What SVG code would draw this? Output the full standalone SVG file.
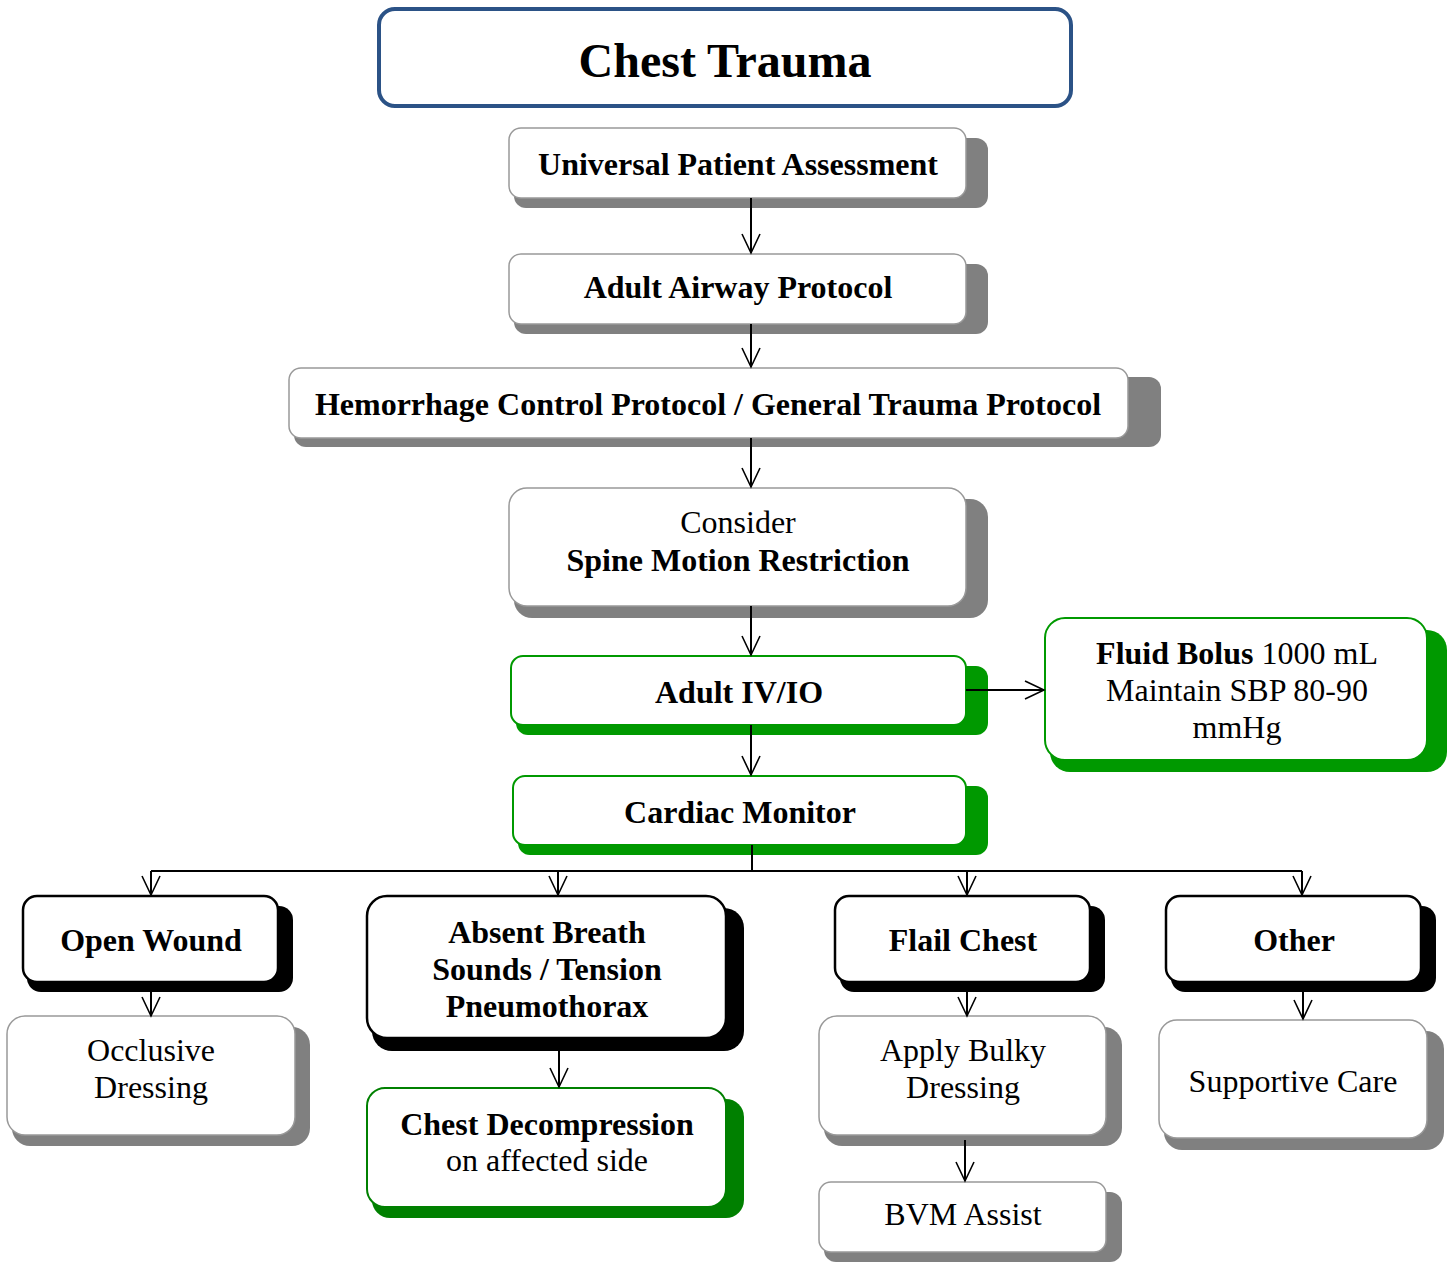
<svg xmlns="http://www.w3.org/2000/svg" width="1453" height="1264" viewBox="0 0 1453 1264">
<defs>
<style>
text{font-family:"Liberation Serif","Times New Roman",serif;font-size:32px;fill:#000;text-anchor:middle}
.b{font-weight:bold}
.box{fill:#fff}
.grey{stroke:#999;stroke-width:1.5}
.grn{stroke:#009900;stroke-width:2}
.dgrn{stroke:#008000;stroke-width:2}
.blk{stroke:#000;stroke-width:2.5}
.sh-grey{fill:#808080}
.sh-grn{fill:#009900}
.sh-dgrn{fill:#008000}
.sh-blk{fill:#000}
.con{stroke:#000;stroke-width:2;fill:none}
</style>
<marker id="arr" markerUnits="userSpaceOnUse" markerWidth="22" markerHeight="20" viewBox="0 0 22 20" refX="20" refY="10" orient="auto">
<path d="M1,1 L20,10 L1,19" fill="none" stroke="#000" stroke-width="1.6"/>
</marker>
</defs>
<rect width="1453" height="1264" fill="#fff"/>

<g id="title">
<rect x="379" y="9" width="692" height="97" rx="16" fill="#fff" stroke="#2b5286" stroke-width="4"/>
<text x="725" y="77" class="b" style="font-size:48px">Chest Trauma</text>
</g>

<g id="upa">
<rect x="514" y="138" width="474" height="70" rx="12" class="sh-grey"/>
<rect x="509" y="128" width="457" height="70" rx="12" class="box grey"/>
<text x="738" y="175" class="b">Universal Patient Assessment</text>
</g>

<g id="airway">
<rect x="514" y="264" width="474" height="70" rx="12" class="sh-grey"/>
<rect x="509" y="254" width="457" height="70" rx="12" class="box grey"/>
<text x="738" y="298" class="b">Adult Airway Protocol</text>
</g>

<g id="hemorrhage">
<rect x="294" y="377" width="867" height="70" rx="12" class="sh-grey"/>
<rect x="289" y="368" width="839" height="70" rx="12" class="box grey"/>
<text x="708" y="415" class="b">Hemorrhage Control Protocol / General Trauma Protocol</text>
</g>

<g id="spine">
<rect x="514" y="499" width="474" height="119" rx="18" class="sh-grey"/>
<rect x="509" y="488" width="457" height="118" rx="18" class="box grey"/>
<text x="738" y="533">Consider</text>
<text x="738" y="571" class="b">Spine Motion Restriction</text>
</g>

<g id="iv">
<rect x="516" y="666" width="472" height="69" rx="12" class="sh-grn"/>
<rect x="511" y="656" width="455" height="69" rx="12" class="box grn"/>
<text x="739" y="703" class="b">Adult IV/IO</text>
</g>

<g id="fluid">
<rect x="1050" y="630" width="397" height="142" rx="20" class="sh-grn"/>
<rect x="1045" y="618" width="382" height="142" rx="20" class="box grn"/>
<text x="1237" y="664"><tspan class="b">Fluid Bolus</tspan> 1000 mL</text>
<text x="1237" y="701">Maintain SBP 80-90</text>
<text x="1237" y="738">mmHg</text>
</g>

<g id="cardiac">
<rect x="518" y="786" width="470" height="69" rx="12" class="sh-grn"/>
<rect x="513" y="776" width="453" height="69" rx="12" class="box grn"/>
<text x="740" y="823" class="b">Cardiac Monitor</text>
</g>

<g id="openwound">
<rect x="27" y="906" width="266" height="86" rx="14" class="sh-blk"/>
<rect x="23" y="896" width="255" height="86" rx="14" class="box blk"/>
<text x="151" y="951" class="b">Open Wound</text>
</g>

<g id="absent">
<rect x="372" y="908" width="372" height="143" rx="20" class="sh-blk"/>
<rect x="367" y="896" width="359" height="142" rx="20" class="box blk"/>
<text x="547" y="943" class="b">Absent Breath</text>
<text x="547" y="980" class="b">Sounds / Tension</text>
<text x="547" y="1017" class="b">Pneumothorax</text>
</g>

<g id="flail">
<rect x="840" y="906" width="265" height="86" rx="14" class="sh-blk"/>
<rect x="835" y="896" width="255" height="86" rx="14" class="box blk"/>
<text x="963" y="951" class="b">Flail Chest</text>
</g>

<g id="other">
<rect x="1171" y="906" width="265" height="86" rx="14" class="sh-blk"/>
<rect x="1166" y="896" width="255" height="86" rx="14" class="box blk"/>
<text x="1294" y="951" class="b">Other</text>
</g>

<g id="occlusive">
<rect x="12" y="1027" width="298" height="119" rx="18" class="sh-grey"/>
<rect x="7" y="1016" width="288" height="119" rx="18" class="box grey"/>
<text x="151" y="1061">Occlusive</text>
<text x="151" y="1098">Dressing</text>
</g>

<g id="decompression">
<rect x="372" y="1099" width="372" height="119" rx="18" class="sh-dgrn"/>
<rect x="367" y="1088" width="359" height="119" rx="18" class="box dgrn"/>
<text x="547" y="1135" class="b">Chest Decompression</text>
<text x="547" y="1171">on affected side</text>
</g>

<g id="bulky">
<rect x="824" y="1027" width="298" height="119" rx="18" class="sh-grey"/>
<rect x="819" y="1016" width="287" height="119" rx="18" class="box grey"/>
<text x="963" y="1061">Apply Bulky</text>
<text x="963" y="1098">Dressing</text>
</g>

<g id="bvm">
<rect x="824" y="1192" width="298" height="70" rx="12" class="sh-grey"/>
<rect x="819" y="1182" width="287" height="70" rx="12" class="box grey"/>
<text x="963" y="1225">BVM Assist</text>
</g>

<g id="supportive">
<rect x="1164" y="1031" width="280" height="119" rx="18" class="sh-grey"/>
<rect x="1159" y="1020" width="268" height="118" rx="18" class="box grey"/>
<text x="1293" y="1092">Supportive Care</text>
</g>

<g id="connectors" class="con">
<path d="M751,198 V253" marker-end="url(#arr)"/>
<path d="M751,324 V367" marker-end="url(#arr)"/>
<path d="M751,438 V487" marker-end="url(#arr)"/>
<path d="M751,606 V655" marker-end="url(#arr)"/>
<path d="M751,725 V775" marker-end="url(#arr)"/>
<path d="M966,690 H1044" marker-end="url(#arr)"/>
<path d="M752,845 V871 M151,871 H1302"/>
<path d="M151,871 V895" marker-end="url(#arr)"/>
<path d="M558,871 V895" marker-end="url(#arr)"/>
<path d="M967,871 V895" marker-end="url(#arr)"/>
<path d="M1302,871 V895" marker-end="url(#arr)"/>
<path d="M151,992 V1016" marker-end="url(#arr)"/>
<path d="M559,1051 V1087" marker-end="url(#arr)"/>
<path d="M967,992 V1016" marker-end="url(#arr)"/>
<path d="M965,1140 V1181" marker-end="url(#arr)"/>
<path d="M1303,992 V1019" marker-end="url(#arr)"/>
</g>
</svg>
